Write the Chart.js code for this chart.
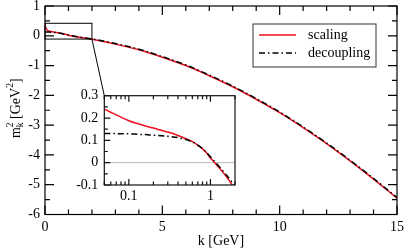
<!DOCTYPE html>
<html>
<head>
<meta charset="utf-8">
<script src="https://cdn.jsdelivr.net/npm/chart.js@4/dist/chart.umd.min.js"></script>
<style>
  html, body { margin: 0; padding: 0; background: #fff; }
  #wrap { position: relative; width: 407px; height: 250px; background: #fff; }
  #main { position: absolute; left: 0; top: 0; }
  #inset { position: absolute; left: 55px; top: 86px; }
</style>
</head>
<body>
<div id="wrap">
  <canvas id="main" width="407" height="250"></canvas>
  <canvas id="inset" width="190" height="120"></canvas>
</div>
<script>
// ---------- data ----------
const kLow = [0.005, 0.01, 0.02, 0.03, 0.04];
const scalingLow = [0.40, 0.35, 0.31, 0.285, 0.26];
const decouplingLow = [0.132, 0.132, 0.132, 0.132, 0.131];

const kInset = [0.05, 0.06, 0.07, 0.08, 0.1, 0.13, 0.16, 0.2, 0.25, 0.3, 0.4, 0.5, 0.6, 0.7, 0.8, 0.9, 1, 1.1, 1.2, 1.4, 1.6, 1.8, 2];
const scalingInset = [0.24, 0.226, 0.214, 0.204, 0.188, 0.174, 0.164, 0.155, 0.145, 0.137, 0.122, 0.107, 0.094, 0.079, 0.062, 0.043, 0.021, 0.004, -0.012, -0.040, -0.067, -0.094, -0.12];
const decouplingInset = [0.131, 0.131, 0.130, 0.130, 0.129, 0.127, 0.126, 0.123, 0.121, 0.118, 0.112, 0.104, 0.093, 0.078, 0.063, 0.045, 0.026, 0.009, -0.006, -0.034, -0.059, -0.083, -0.105];

const kHigh = [3, 4, 5, 6, 7, 8, 9, 10, 11, 12, 13, 14, 15];
const scalingHigh = [-0.28, -0.47, -0.72, -1.00, -1.34, -1.71, -2.13, -2.58, -3.08, -3.62, -4.20, -4.81, -5.45];
const decouplingHigh = [-0.26, -0.45, -0.70, -0.98, -1.32, -1.69, -2.11, -2.56, -3.06, -3.60, -4.18, -4.79, -5.43];

const xTicksMain = [0, 5, 10, 15];
const yTicksMain = [-6, -5, -4, -3, -2, -1, 0, 1];
const xTicksInset = [0.1, 1];
const yTicksInset = [-0.1, 0, 0.1, 0.2, 0.3];
const zoomBox = [0, 2, -0.11, 0.42]; // k from, k to, m2 from, m2 to

// ---------- helpers ----------
const SERIF = "'Liberation Serif', 'DejaVu Serif', serif";
const RED = '#ec1020';
const DASHDOT = [6, 3, 1.5, 3];

function pts(ks, vs) { return ks.map((k, i) => ({ x: k, y: vs[i] })); }

function tickMarks(ctx, chart, axis, values, len, sides) {
  const a = chart.chartArea, s = chart.scales[axis];
  ctx.beginPath();
  values.forEach(v => {
    const p = s.getPixelForValue(v);
    if (axis === 'x') {
      if (sides.includes('bottom')) { ctx.moveTo(p, a.bottom); ctx.lineTo(p, a.bottom - len); }
      if (sides.includes('top')) { ctx.moveTo(p, a.top); ctx.lineTo(p, a.top + len); }
    } else {
      if (sides.includes('left')) { ctx.moveTo(a.left, p); ctx.lineTo(a.left + len, p); }
      if (sides.includes('right')) { ctx.moveTo(a.right, p); ctx.lineTo(a.right - len, p); }
    }
  });
  ctx.stroke();
}

function minorsBetween(major, step) {
  const out = [];
  for (let i = 0; i < major.length - 1; i++) {
    for (let v = major[i] + step; v < major[i + 1] - 1e-9; v += step) out.push(+v.toFixed(4));
  }
  return out;
}

// keep label overhang from pushing the plot frame around
function noOverhang(s) { s.paddingTop = 0; s.paddingBottom = 0; s.paddingLeft = 0; s.paddingRight = 0; }

let insetChart = null;

// ---------- main chart decorations ----------
const mainDecor = {
  id: 'mainDecor',
  afterDraw(chart) {
    const ctx = chart.ctx, a = chart.chartArea, x = chart.scales.x, y = chart.scales.y;
    ctx.save();
    ctx.strokeStyle = '#000';
    ctx.lineWidth = 1.2;
    ctx.strokeRect(a.left, a.top, a.right - a.left, a.bottom - a.top);

    const all4 = ['bottom', 'top', 'left', 'right'];
    tickMarks(ctx, chart, 'x', xTicksMain, 9, all4);
    tickMarks(ctx, chart, 'x', minorsBetween(xTicksMain, 1), 5, all4);
    tickMarks(ctx, chart, 'y', yTicksMain, 9, all4);
    tickMarks(ctx, chart, 'y', minorsBetween(yTicksMain, 0.5), 5, all4);

    // zoom box + connector to inset
    const bx0 = x.getPixelForValue(zoomBox[0]), bx1 = x.getPixelForValue(zoomBox[1]);
    const by0 = y.getPixelForValue(zoomBox[2]), by1 = y.getPixelForValue(zoomBox[3]);
    ctx.lineWidth = 1;
    ctx.strokeRect(bx0, by1, bx1 - bx0, by0 - by1);
    if (insetChart) {
      const c = insetChart.canvas, ia = insetChart.chartArea;
      ctx.beginPath();
      ctx.moveTo(bx1, by0);
      ctx.lineTo(c.offsetLeft + ia.left, c.offsetTop + ia.top);
      ctx.stroke();
    }

    // legend
    const lx = a.right - 144, ly = a.top + 18;
    ctx.strokeStyle = '#333';
    ctx.strokeRect(lx, ly, 123, 43);
    ctx.lineWidth = 1.5;
    ctx.strokeStyle = RED;
    ctx.beginPath(); ctx.moveTo(lx + 6, ly + 11); ctx.lineTo(lx + 43, ly + 11); ctx.stroke();
    ctx.strokeStyle = '#000';
    ctx.setLineDash(DASHDOT);
    ctx.beginPath(); ctx.moveTo(lx + 6, ly + 29); ctx.lineTo(lx + 43, ly + 29); ctx.stroke();
    ctx.setLineDash([]);
    ctx.fillStyle = '#000';
    ctx.font = '14px ' + SERIF;
    ctx.textBaseline = 'middle';
    ctx.fillText('scaling', lx + 55, ly + 11);
    ctx.fillText('decoupling', lx + 55, ly + 29);

    // y title: m_k^2 [GeV^2]
    ctx.translate(19.5, (a.top + a.bottom) / 2 - 2);
    ctx.rotate(-Math.PI / 2);
    ctx.textBaseline = 'alphabetic';
    const big = '14px ' + SERIF, small = '9.5px ' + SERIF;
    const parts = [
      ['m', big, 0, true], ['k', small, 3, false], ['2', small, -7, true],
      [' [GeV', big, 0, true], ['2', small, -7, true], [']', big, 0, true]
    ];
    let total = 0;
    parts.forEach(p => { ctx.font = p[1]; if (p[3]) total += ctx.measureText(p[0]).width; });
    let cx = -total / 2;
    parts.forEach(p => {
      ctx.font = p[1];
      ctx.fillText(p[0], cx, p[2]);
      if (p[3]) cx += ctx.measureText(p[0]).width;
    });
    ctx.restore();
  }
};

const mainChart = new Chart(document.getElementById('main'), {
  type: 'line',
  data: {
    datasets: [
      {
        label: 'decoupling',
        data: pts(kLow.concat(kInset, kHigh), decouplingLow.concat(decouplingInset, decouplingHigh)),
        borderColor: '#000', borderWidth: 1.5, borderDash: DASHDOT,
        pointRadius: 0, cubicInterpolationMode: 'monotone', order: 0
      },
      {
        label: 'scaling',
        data: pts(kLow.concat(kInset, kHigh), scalingLow.concat(scalingInset, scalingHigh)),
        borderColor: RED, borderWidth: 1.5,
        pointRadius: 0, cubicInterpolationMode: 'monotone', order: 1
      }
    ]
  },
  options: {
    responsive: false, animation: false, devicePixelRatio: 1,
    layout: { padding: { top: 6, right: 10, left: 0, bottom: 0 } },
    plugins: { legend: { display: false }, tooltip: { enabled: false } },
    scales: {
      x: {
        type: 'linear', min: 0, max: 15,
        grid: { display: false, drawTicks: false }, border: { display: false },
        afterBuildTicks: s => { s.ticks = xTicksMain.map(v => ({ value: v })); },
        afterFit: s => { s.height = 35.5; noOverhang(s); },
        ticks: { font: { family: SERIF, size: 14 }, color: '#000', padding: 4, maxRotation: 0,
          callback: v => String(v) },
        title: { display: true, text: 'k [GeV]', color: '#000',
          font: { family: SERIF, size: 14 }, padding: { top: 0, bottom: 0 } }
      },
      y: {
        type: 'linear', min: -6, max: 1,
        grid: { display: false, drawTicks: false }, border: { display: false },
        afterBuildTicks: s => { s.ticks = yTicksMain.map(v => ({ value: v })); },
        afterFit: s => { s.width = 45; noOverhang(s); },
        ticks: { font: { family: SERIF, size: 14 }, color: '#000', padding: 5,
          callback: v => String(v) }
      }
    }
  },
  plugins: [mainDecor]
});

// ---------- inset ----------
const insetDecor = {
  id: 'insetDecor',
  beforeDatasetsDraw(chart) {
    const ctx = chart.ctx, a = chart.chartArea, y = chart.scales.y;
    ctx.save();
    ctx.fillStyle = '#fff';
    ctx.fillRect(a.left, a.top, a.right - a.left, a.bottom - a.top);
    const y0 = y.getPixelForValue(0);
    ctx.strokeStyle = '#b8b8b8';
    ctx.lineWidth = 1;
    ctx.beginPath(); ctx.moveTo(a.left, y0); ctx.lineTo(a.right, y0); ctx.stroke();
    ctx.restore();
  },
  afterDraw(chart) {
    const ctx = chart.ctx, a = chart.chartArea;
    ctx.save();
    ctx.strokeStyle = '#111';
    ctx.lineWidth = 1.2;
    ctx.strokeRect(a.left, a.top, a.right - a.left, a.bottom - a.top);
    const xMinor = [];
    [0.01, 0.1, 1].forEach(d => { for (let m = 2; m <= 9; m++) xMinor.push(+(m * d).toFixed(3)); });
    const xs = chart.scales.x;
    const inRange = xMinor.filter(v => v >= xs.min && v <= xs.max);
    tickMarks(ctx, chart, 'x', xTicksInset, 6, ['bottom', 'top']);
    tickMarks(ctx, chart, 'x', inRange, 3.5, ['bottom', 'top']);
    tickMarks(ctx, chart, 'y', yTicksInset, 6, ['left']);
    tickMarks(ctx, chart, 'y', minorsBetween(yTicksInset, 0.05), 3.5, ['left']);
    ctx.restore();
  }
};

insetChart = new Chart(document.getElementById('inset'), {
  type: 'line',
  data: {
    datasets: [
      {
        label: 'decoupling', data: pts(kInset, decouplingInset),
        borderColor: '#000', borderWidth: 1.5, borderDash: DASHDOT,
        pointRadius: 0, cubicInterpolationMode: 'monotone', order: 0
      },
      {
        label: 'scaling', data: pts(kInset, scalingInset),
        borderColor: RED, borderWidth: 1.5,
        pointRadius: 0, cubicInterpolationMode: 'monotone', order: 1
      }
    ]
  },
  options: {
    responsive: false, animation: false, devicePixelRatio: 1,
    layout: { padding: { top: 9.7, right: 10, left: 0, bottom: 0 } },
    plugins: { legend: { display: false }, tooltip: { enabled: false } },
    scales: {
      x: {
        type: 'logarithmic', min: 0.05, max: 2,
        grid: { display: false, drawTicks: false }, border: { display: false },
        afterBuildTicks: s => { s.ticks = xTicksInset.map(v => ({ value: v })); },
        afterFit: s => { s.height = 21; noOverhang(s); },
        ticks: { font: { family: SERIF, size: 14 }, color: '#000', padding: 3, maxRotation: 0,
          callback: v => String(v) }
      },
      y: {
        type: 'linear', min: -0.1, max: 0.3,
        grid: { display: false, drawTicks: false }, border: { display: false },
        afterBuildTicks: s => { s.ticks = yTicksInset.map(v => ({ value: v })); },
        afterFit: s => { s.width = 49.3; noOverhang(s); },
        ticks: { font: { family: SERIF, size: 14 }, color: '#000', padding: 6,
          callback: v => String(+(+v).toFixed(2)) }
      }
    }
  },
  plugins: [insetDecor]
});

mainChart.draw();
</script>
</body>
</html>
